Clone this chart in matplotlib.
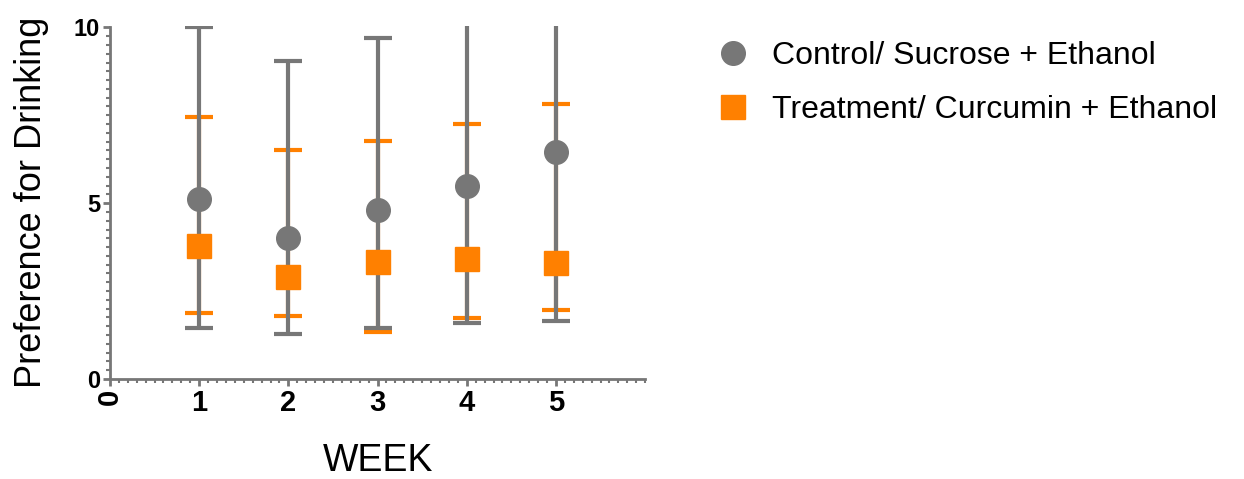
import numpy as np
import matplotlib.pyplot as plt
from matplotlib.lines import Line2D
from matplotlib.ticker import MultipleLocator

plt.rcParams['font.family'] = ['Liberation Sans', 'DejaVu Sans']

weeks = [1, 2, 3, 4, 5]

# Control / Sucrose + Ethanol
ctrl_mean = [5.11, 4.00, 4.80, 5.48, 6.46]
ctrl_low = [1.46, 1.29, 1.46, 1.60, 1.66]
ctrl_high = [10.0, 9.05, 9.70, 10.6, 11.2]

# Treatment / Curcumin + Ethanol
trt_mean = [3.77, 2.91, 3.34, 3.40, 3.31]
trt_low = [1.89, 1.80, 1.34, 1.74, 1.97]
trt_high = [7.46, 6.51, 6.77, 7.26, 7.83]

gray = '#777777'
orange = '#ff8000'

fig = plt.figure(figsize=[12.44, 4.79], dpi=100)
ax = fig.add_axes([0.0884, 0.2088, 0.4302, 0.7370])

t_err = [np.array(trt_mean) - np.array(trt_low), np.array(trt_high) - np.array(trt_mean)]
c_err = [np.array(ctrl_mean) - np.array(ctrl_low), np.array(ctrl_high) - np.array(ctrl_mean)]

ax.errorbar(weeks, trt_mean, yerr=t_err, fmt='none', ecolor=orange, elinewidth=3,
            capsize=10, capthick=3, zorder=2)
ax.errorbar(weeks, ctrl_mean, yerr=c_err, fmt='none', ecolor=gray, elinewidth=3,
            capsize=10, capthick=3, zorder=3)
ax.plot(weeks, ctrl_mean, 'o', color=gray, markersize=17, linestyle='none', zorder=4)
ax.plot(weeks, trt_mean, 's', color=orange, markersize=17, linestyle='none', zorder=5)

ax.set_xlim(0, 6)
ax.set_ylim(0, 10.04)
ax.set_xticks([0, 1, 2, 3, 4, 5])
ax.set_xticklabels(['0', '1', '2', '3', '4', '5'], fontsize=21, fontweight='bold')
ax.get_xticklabels()[0].set_rotation(90)
ax.set_yticks([0, 5, 10])
ax.set_yticklabels(['0', '5', '10'], fontsize=17, fontweight='bold')
ax.xaxis.set_minor_locator(MultipleLocator(0.1))
ax.yaxis.set_minor_locator(MultipleLocator(0.25))
ax.tick_params(axis='both', which='major', length=5, width=2, color=gray, pad=2)
ax.tick_params(axis='both', which='minor', length=3, width=1.5, color=gray)

for side in ['top', 'right']:
    ax.spines[side].set_visible(False)
for side in ['left', 'bottom']:
    ax.spines[side].set_color(gray)
    ax.spines[side].set_linewidth(2)
ax.spines['left'].set_bounds(0, 10)

ax.set_xlabel('WEEK', fontsize=27, labelpad=19)
ax.set_ylabel('Preference for Drinking', fontsize=26, labelpad=18)

handles = [
    Line2D([], [], marker='o', color=gray, markersize=17, linestyle='none'),
    Line2D([], [], marker='s', color=orange, markersize=17, linestyle='none'),
]
fig.legend(handles, ['Control/ Sucrose + Ethanol', 'Treatment/ Curcumin + Ethanol'],
           loc='upper left', bbox_to_anchor=(0.551, 0.975), frameon=False,
           fontsize=23, handletextpad=0.6, labelspacing=0.75, handlelength=1.2)

fig.savefig('out.png', dpi=100)
